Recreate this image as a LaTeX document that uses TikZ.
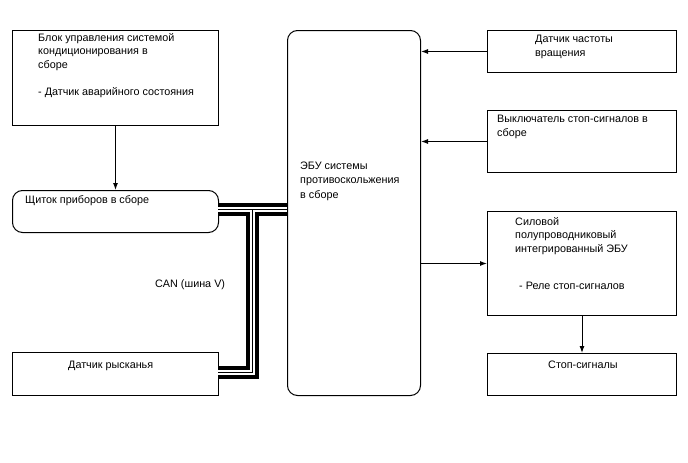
\documentclass[tikz,border=0pt]{standalone}
\usepackage{fontspec}
\setmainfont{Liberation Sans}
\usetikzlibrary{arrows.meta}
\begin{document}
\begin{tikzpicture}[x=1pt,y=-1pt,
  box/.style={draw=black, line width=1pt, inner sep=0pt, anchor=north west},
  rbox/.style={box, rounded corners=10pt},
  txt/.style={inner sep=0pt, anchor=north west, yshift=9.59pt, align=left,
    font=\fontsize{10.8}{13.7}\selectfont, execute at begin node=\strut},
  arr/.style={line width=1pt, -{Latex[length=7pt,width=5pt]}}]
\useasboundingbox (0,0) rectangle (688,463);
% boxes
\node[box, minimum width=206pt, minimum height=95pt] (blok) at (12,30) {};
\node[rbox, minimum width=206pt, minimum height=42pt] (shch) at (12,190) {};
\node[box, minimum width=206pt, minimum height=43pt] (ryskan) at (12,352) {};
\node[rbox, minimum width=133pt, minimum height=365pt] (ecu) at (287,30) {};
\node[box, minimum width=189pt, minimum height=42pt] (dch) at (487,30) {};
\node[box, minimum width=189pt, minimum height=62pt] (vykl) at (487,110) {};
\node[box, minimum width=189pt, minimum height=104pt] (sil) at (487,211) {};
\node[box, minimum width=189pt, minimum height=42pt] (stop) at (487,353) {};
% texts
\node[txt] (tblok) at (38,42.5) {Блок управления системой\\кондиционирования в\\сборе\\ \\- Датчик аварийного состояния};
\node[txt] (tshch) at (25,203.5) {Щиток приборов в сборе};
\node[txt] (tryskan) at (68,368.5) {Датчик рысканья};
\node[txt, font=\fontsize{10.8}{14.5}\selectfont, yshift=0.56pt] (tecu) at (300,171.5) {ЭБУ системы\\противоскольжения\\в сборе};
\node[txt] (tdch) at (535,44.5) {Датчик частоты\\вращения};
\node[txt] (tvykl) at (497,124.5) {Выключатель стоп-сигналов в\\сборе};
\node[txt] (tsil) at (515,226.5) {Силовой\\полупроводниковый\\интегрированный ЭБУ};
\node[txt] (tsil2) at (519,289.5) {- Реле стоп-сигналов};
\node[txt] (tstop) at (548,368.5) {Стоп-сигналы};
\node[txt] (tcan) at (155,287.5) {CAN (шина V)};
% arrows
\draw[arr] (blok.south) -- (shch.north);
\draw[arr] (dch.west) -- (dch.west -| ecu.east);
\draw[arr] (vykl.west) -- (vykl.west -| ecu.east);
\draw[arr] (sil.west -| ecu.east) -- (sil.west);
\draw[arr] (sil.south) -- (stop.north);
% CAN bus
\coordinate (busA) at (218,209);
\coordinate (busJ) at (252,209);
\coordinate (busC) at (252,372);
\coordinate (busD) at (218,372);
\foreach \w/\c in {13pt/black, 5pt/white, 1pt/black}{
  \draw[line width=\w, draw=\c] (busJ) -- (busC) -- (busD);
  \draw[line width=\w, draw=\c] (busA) -- (busA -| ecu.west);
}
\end{tikzpicture}
\end{document}
